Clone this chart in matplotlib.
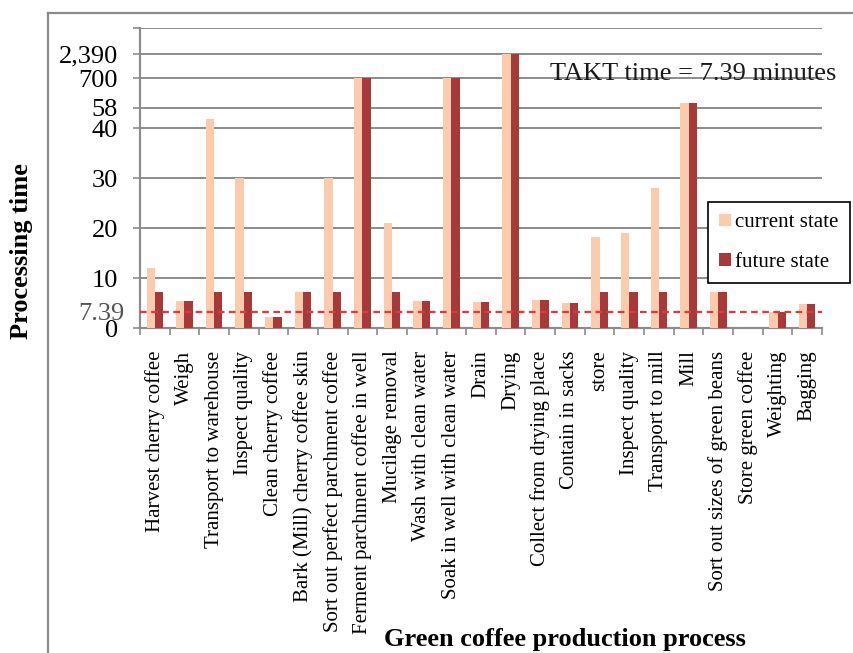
import matplotlib
matplotlib.use("Agg")
import matplotlib.pyplot as plt
import matplotlib.lines as mlines
import numpy as np

plt.rcParams['font.family'] = ['Liberation Serif', 'DejaVu Serif']

categories = [
    "Harvest cherry coffee", "Weigh", "Transport to warehouse", "Inspect quality",
    "Clean cherry coffee", "Bark (Mill) cherry coffee skin",
    "Sort out perfect parchment coffee", "Ferment parchment coffee in well",
    "Mucilage removal", "Wash with clean water", "Soak in well with clean water",
    "Drain", "Drying", "Collect from drying place", "Contain in sacks", "store",
    "Inspect quality", "Transport to mill", "Mill", "Sort out sizes of green beans",
    "Store green coffee", "Weighting", "Bagging",
]
current_state = [12, 8.2, 48, 30, 5.2, 8.9, 30, 700, 21, 8.2, 700, 8.15, 2390,
                 8.3, 8.1, 18.2, 19.1, 28, 154, 8.9, 0, 7.4, 8.0]
future_state = [8.9, 8.2, 8.9, 8.9, 5.2, 8.9, 8.9, 700, 8.9, 8.2, 700, 8.15, 2390,
                8.3, 8.1, 8.9, 8.9, 8.9, 154, 8.9, 0, 7.4, 8.0]
takt_time = 7.39
ytick_values = [0, 10, 20, 30, 40, 58, 700, 2390]
ytick_labels = ["0", "10", "20", "30", "40", "58", "700", "2,390"]

# broken (piecewise) value axis as in the source chart
scale_vals = [0, 7.39, 10, 20, 30, 40, 58, 700, 2390, 4200]
scale_pos = [0, 16.6, 50, 100, 150, 200, 220.6, 250, 274.3, 300]


def fwd(v):
    return np.interp(v, scale_vals, scale_pos)


def inv(p):
    return np.interp(p, scale_pos, scale_vals)


grid_col = '#8c8c8c'
cur_col = '#FBCBAE'
fut_col = '#A8393A'

fig = plt.figure(figsize=(8.54, 6.53), dpi=100)
ax = fig.add_axes([140/854, 1-328.3/653, 682/854, 300/653])
ax.set_yscale('function', functions=(fwd, inv))

x = np.arange(len(categories))
w = 0.28
ax.bar(x - w/2, current_state, w, color=cur_col, label='current state', zorder=3)
ax.bar(x + w/2, future_state, w, color=fut_col, label='future state', zorder=3)

ax.axhline(takt_time, color='#E8363B', lw=1.6, ls=(0, (3, 2)), zorder=4)

ax.set_xlim(-0.5, len(categories) - 0.5)
ax.set_ylim(0, scale_vals[-1])

ax.set_yticks(ytick_values + [scale_vals[-1]])
ax.set_yticklabels(ytick_labels + [""])
ax.set_yticks([takt_time], minor=True)
ax.set_yticklabels(["7.39"], minor=True)
ax.yaxis.grid(True, which='major', color=grid_col, lw=1.4, zorder=0)
ax.tick_params(axis='y', which='both', length=5, width=1.2, color=grid_col,
               labelsize=19, pad=11)
ax.tick_params(axis='y', which='minor', length=0, labelcolor='#555555')

ax.set_xticks(x)
ax.set_xticklabels(categories, rotation=90, fontsize=15, va='top', ha='center')
ax.set_xticks(np.arange(len(categories) + 1) - 0.5, minor=True)
ax.tick_params(axis='x', which='major', length=0, pad=16)
ax.tick_params(axis='x', which='minor', length=5, width=1.2, color=grid_col)

for s in ['top', 'right']:
    ax.spines[s].set_visible(False)
for s in ['left', 'bottom']:
    ax.spines[s].set_color(grid_col)
    ax.spines[s].set_linewidth(1.6)

leg = ax.legend(loc='upper left', bbox_to_anchor=(707.7/854, 1-201.7/653),
                bbox_transform=fig.transFigure, borderaxespad=0, fontsize=15,
                handlelength=0.55, handleheight=0.55, handletextpad=0.2,
                labelspacing=1.0, borderpad=0.55, fancybox=False, framealpha=1)
leg.get_frame().set_edgecolor('black')
leg.get_frame().set_linewidth(1.2)

fig.text(550/854, 1-80/653, "TAKT time = 7.39 minutes", fontsize=19,
         ha='left', va='baseline', color='#1a1a1a')
fig.text(22/854, 1-251/653, "Processing time", fontsize=19, fontweight='bold',
         rotation=90, ha='center', va='center')
fig.text(565/854, 1-646/653, "Green coffee production process", fontsize=19,
         fontweight='bold', ha='center', va='baseline')

# outer frame of the source figure
fig.add_artist(mlines.Line2D([48/854, 48/854], [0, 1-13/653], color='#8a8a8a',
                             lw=1.6, transform=fig.transFigure))
fig.add_artist(mlines.Line2D([48/854, 1], [1-13/653, 1-13/653], color='#8a8a8a',
                             lw=1.6, transform=fig.transFigure))

fig.savefig('out.png', dpi=100)
